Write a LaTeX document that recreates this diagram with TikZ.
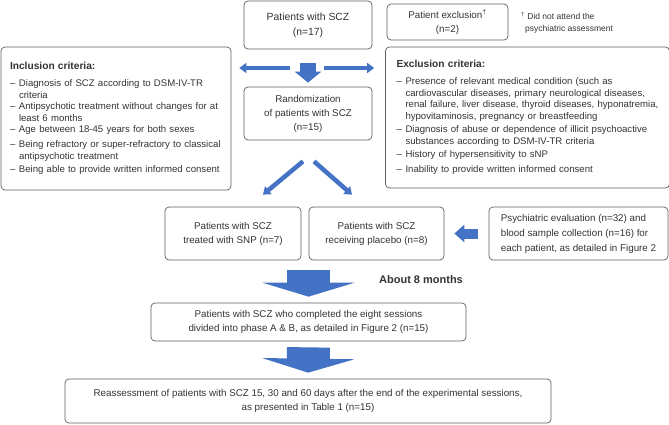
\documentclass[tikz,border=0pt]{standalone}
\usepackage{fontspec}
\setmainfont{Liberation Sans}
\usetikzlibrary{arrows.meta,calc}
\definecolor{arrowblue}{HTML}{4472C4}
\definecolor{boxgray}{HTML}{5E5E5E}
\definecolor{textgray}{HTML}{333333}
\newcommand{\critem}[1]{\par\vspace{3.3pt}\noindent\makebox[9pt][l]{--}\parbox[t]{\dimexpr\hsize-9pt\relax}{\raggedright #1}}
\newcommand{\crhead}[1]{\noindent{\bfseries\fontsize{10.2}{12}\selectfont #1}\par\vspace{2pt}}

\begin{document}
\begin{tikzpicture}[x=1pt, y=-1pt, line join=round,
		box/.style={draw=boxgray, line width=0.7pt, rounded corners=4pt, text=textgray, align=center, inner sep=0pt, font=\fontsize{9.8}{14}\selectfont},
		critbox/.style={box, align=left, font=\fontsize{9.6}{11.7}\selectfont},
		thinarrow/.style={draw=arrowblue, line width=4.5pt, -{Triangle[width=10pt,length=7pt]}},
		midarrow/.style={draw=arrowblue, line width=16pt, -{Triangle[width=26pt,length=11pt]}},
		fatarrow/.style={draw=arrowblue, line width=43pt, -{Triangle[width=92pt,length=14pt]}}]
	\useasboundingbox (0,0) rectangle (669,424);
	% boxes
	\node[box, minimum width=128pt, minimum height=48pt, font=\fontsize{10.4}{15}\selectfont] (top) at (308,25) {Patients with SCZ\\(n=17)};
	\node[box, minimum width=121pt, minimum height=36pt] (drop) at (447.5,22) {Patient exclusion\textsuperscript{\textdagger}\\(n=2)};
	\node[anchor=north west, align=left, inner sep=0pt, text=textgray, font=\fontsize{8.5}{12}\selectfont] (note) at (521,12) {\textsuperscript{\textdagger} Did not attend the\\\hspace{4pt}psychiatric assessment};
	\node[critbox, minimum width=230pt, minimum height=143pt, inner xsep=9pt, text width=212pt] (incl) at (116,118.5) {%
		\crhead{Inclusion criteria:}%
		\critem{Diagnosis of SCZ according to DSM-IV-TR\\criteria}%
		\critem{Antipsychotic treatment without changes for at\\least 6 months}%
		\critem{Age between 18-45 years for both sexes}%
		\critem{Being refractory or super-refractory to classical\\antipsychotic treatment}%
		\critem{Being able to provide written informed consent}};
	\node[critbox, minimum width=281pt, minimum height=141pt, inner xsep=11pt, text width=262pt] (excl) at (527.5,117.5) {%
		\crhead{Exclusion criteria:}%
		\critem{Presence of relevant medical condition (such as\\cardiovascular diseases, primary neurological diseases,\\renal failure, liver disease, thyroid diseases, hyponatremia,\\hypovitaminosis, pregnancy or breastfeeding}%
		\critem{Diagnosis of abuse or dependence of illicit psychoactive\\substances according to DSM-IV-TR criteria}%
		\critem{History of hypersensitivity to sNP}%
		\critem{Inability to provide written informed consent}};
	\node[box, minimum width=128pt, minimum height=53pt] (random) at (308,113.5) {Randomization\\of patients with SCZ\\(n=15)};
	\node[box, minimum width=136pt, minimum height=53pt] (snp) at (233,233.5) {Patients with SCZ\\treated with SNP (n=7)};
	\node[box, minimum width=135pt, minimum height=53pt] (placebo) at (376.5,233.5) {Patients with SCZ\\receiving placebo (n=8)};
	\node[box, minimum width=179pt, minimum height=53pt, align=left, font=\fontsize{9.8}{15}\selectfont] (psych) at (578.5,233.5) {Psychiatric evaluation (n=32) and\\blood sample collection (n=16) for\\each patient, as detailed in Figure 2};
	\node[font=\bfseries\fontsize{11}{13}\selectfont, text=textgray] (months) at (421,280) {About 8 months};
	\node[box, minimum width=315pt, minimum height=38pt] (done) at (308.5,322) {Patients with SCZ who completed the eight sessions\\divided into phase A \& B, as detailed in Figure 2 (n=15)};
	\node[box, minimum width=486pt, minimum height=44pt] (reass) at (308,401) {Reassessment of patients with SCZ 15, 30 and 60 days after the end of the experimental sessions,\\as presented in Table 1 (n=15)};
	% arrows
	\coordinate (split) at (308,68);
	\draw[thinarrow, shorten <=18pt, shorten >=8pt] (split) -- (incl.east |- split);
	\draw[thinarrow, shorten <=16pt, shorten >=11pt] (split) -- (excl.west |- split);
	\draw[midarrow, shorten <=14pt, shorten >=4pt] (top) -- (random);
	\draw[thinarrow] ($(random.south)+(-5,21)$) -- ($(snp.north)+(30,-12)$);
	\draw[thinarrow] ($(random.south)+(6,21)$) -- ($(placebo.north)+(-24.5,-12)$);
	\draw[midarrow, line width=10pt, -{Triangle[width=17pt,length=10pt]}, shorten <=11pt, shorten >=10pt] (psych.west) -- (placebo.east);
	\draw[fatarrow, shorten <=10pt, shorten >=6pt] (done.north |- snp.south) -- (done.north);
	\draw[fatarrow, shorten <=6pt, shorten >=6pt] (done.south) -- (reass.north);
\end{tikzpicture}
\end{document}
